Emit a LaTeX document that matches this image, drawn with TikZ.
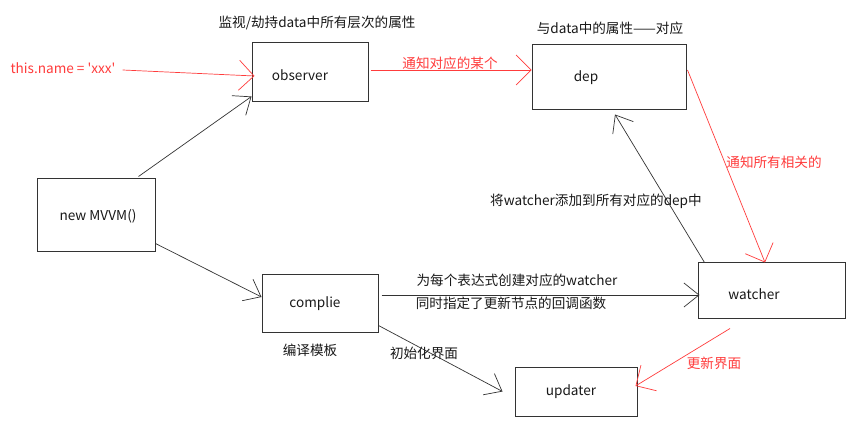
\documentclass[tikz,border=0pt]{standalone}
\usepackage{fontspec}
\setmainfont{Noto Sans CJK SC}
\setmonofont{Noto Sans CJK SC}
\usetikzlibrary{arrows.meta,calc}
\definecolor{redline}{HTML}{FF3C3C}
\definecolor{darkline}{HTML}{333333}
\begin{document}
\begin{tikzpicture}[x=1pt,y=-1pt,
  box/.style={draw=darkline,line width=1pt,inner sep=0pt,fill=white},
  lbl/.style={font=\fontsize{13.6}{15}\selectfont,text=black!90,inner sep=0pt},
  rlbl/.style={lbl,text=redline},
  blk/.style={draw=darkline,line width=0.7pt,-{Straight Barb[length=15pt,width=24pt,line width=0.7pt]}},
  red/.style={draw=redline,line width=0.7pt,-{Straight Barb[length=15pt,width=30pt,line width=0.7pt]}}]
\useasboundingbox[fill=white] (0,0) rectangle (864,427);
% boxes
\node[box,minimum width=116pt,minimum height=59pt] (observer) at (310,72.5) {};
\node[box,minimum width=154pt,minimum height=65pt] (dep) at (609,77.5) {};
\node[box,minimum width=118pt,minimum height=73pt] (mvvm) at (96,215.5) {};
\node[box,minimum width=116pt,minimum height=57pt] (complie) at (320,303.5) {};
\node[box,minimum width=147pt,minimum height=56pt] (watcher) at (771.5,291) {};
\node[box,minimum width=122pt,minimum height=49pt] (updater) at (576,391.5) {};
% box texts
\node[lbl] (tobserver) at (300,75) {observer};
\node[lbl] (tdep) at (586,78) {dep};
\node[lbl] (tmvvm) at (98,216) {new MVVM()};
\node[lbl] (tcomplie) at (315,304) {complie};
\node[lbl] (twatcher) at (754,294) {watcher};
\node[lbl] (tupdater) at (571,392) {updater};
% annotations
\node[lbl] (nobs) at (317,23) {监视/劫持data中所有层次的属性};
\node[lbl] (ndep) at (610,28) {与data中的属性——对应};
\node[rlbl] (thisname) at (63,68) {\ttfamily this.name = 'xxx'};
\node[rlbl] (n1) at (450,63) {通知对应的某个};
\node[rlbl] (n2) at (774,162) {通知所有相关的};
\node[lbl] (n3) at (596,201) {将watcher添加到所有对应的dep中};
\node[lbl] (n4) at (517,280) {为每个表达式创建对应的watcher};
\node[lbl] (n5) at (511,303) {同时指定了更新节点的回调函数};
\node[lbl] (n6) at (310,350) {编译模板};
\node[lbl] (n7) at (424,353) {初始化界面};
\node[rlbl] (n8) at (714,363) {更新界面};
% connectors
\draw[red] ([xshift=7pt,yshift=-2pt]thisname.east) -- ([xshift=3pt,yshift=-3.5pt]observer.west);
\draw[blk] ([xshift=-17pt,yshift=2pt]mvvm.north east) -- ([yshift=6pt]observer.south west);
\draw[red] ([xshift=2pt,yshift=2.5pt]observer.east) -- ([yshift=7.5pt]dep.west);
\draw[red] ([xshift=1pt,yshift=7.5pt]dep.east) -- ([xshift=-6.5pt]watcher.north);
\draw[blk] ([xshift=7pt]watcher.north west) -- ([xshift=6pt,yshift=-4pt]dep.south);
\draw[blk] ([yshift=9pt]mvvm.south east) -- ([yshift=6.5pt]complie.west);
\draw[blk] ([xshift=3pt,yshift=8.5pt]complie.east) -- ([xshift=2pt,yshift=-4pt]watcher.west);
\draw[blk] ([yshift=7pt]complie.south east) -- ([xshift=-12pt]updater.west);
\draw[red] ([xshift=-41.5pt,yshift=-9pt]watcher.south) -- ([xshift=-2pt,yshift=5.5pt]updater.east);
\end{tikzpicture}
\end{document}
